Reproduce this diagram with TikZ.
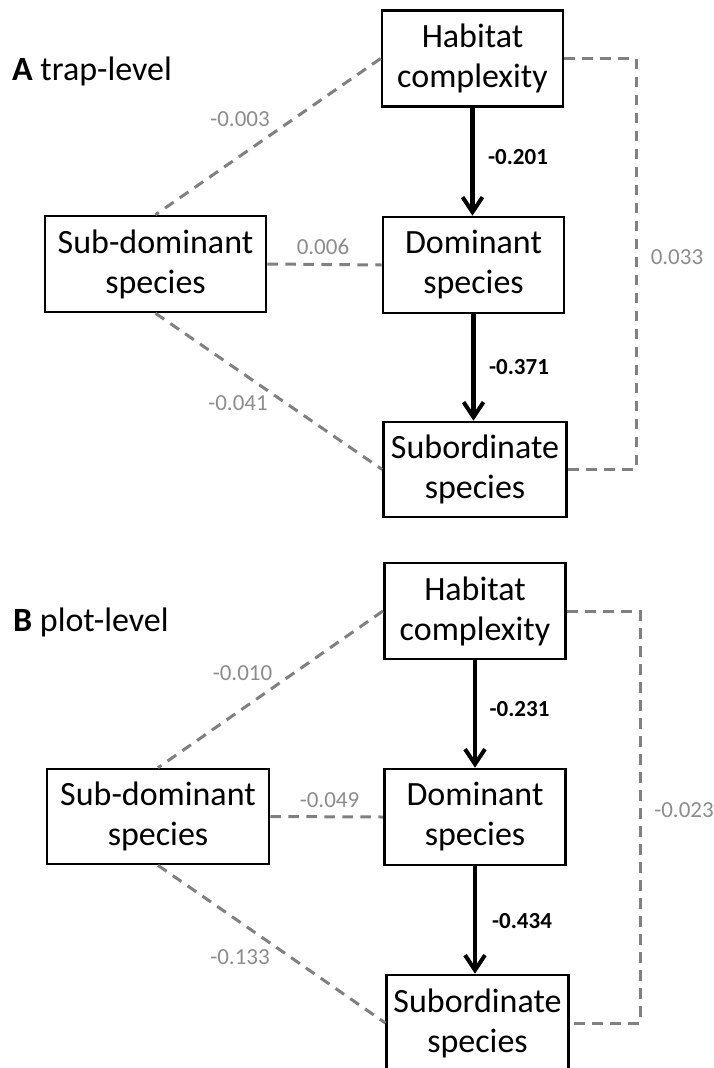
\documentclass[tikz,border=0pt]{standalone}
\usepackage{fontspec}
\setmainfont{Carlito}
\usetikzlibrary{arrows.meta}
\definecolor{dashgray}{RGB}{128,128,128}
\definecolor{labgray}{RGB}{140,140,140}
\tikzset{
  box/.style={draw=black, line width=2.6pt, minimum height=96pt, inner sep=0pt, align=center, font=\fontsize{34}{40}\selectfont},
  wbox/.style={box, minimum width=181pt},
  corr/.style={draw=dashgray, line width=3pt, dash pattern=on 10.5pt off 7.5pt},
  path/.style={draw=black, line width=4.2pt, -{Straight Barb[length=15pt,width=20pt,line width=4pt]}},
  glab/.style={text=labgray, font=\fontsize{23}{26}\selectfont, inner sep=0pt},
  blab/.style={text=black, font=\bfseries\fontsize{23}{26}\selectfont, inner sep=0pt},
  ptitle/.style={anchor=west, inner sep=0pt, font=\fontsize{34}{40}\selectfont}
}
\begin{document}
\begin{tikzpicture}[x=1pt,y=-1pt]
\useasboundingbox (0,0) rectangle (714,1068);
% ---------- Panel A ----------
\node[ptitle] (tA) at (12,71) {\textbf{A} trap-level};
\node[wbox] (hA) at (472.5,58.5) {Habitat\\complexity};
\node[wbox] (dA) at (473.5,265) {Dominant\\species};
\node[box, minimum width=183pt, minimum height=95pt] (sA) at (475,469.5) {Subordinate\\species};
\node[box, minimum width=221pt] (sdA) at (155.5,264) {Sub-dominant\\species};
\draw[path] (hA.south) -- (hA.south |- dA.north);
\draw[path] (dA.south) -- (dA.south |- sA.north);
\draw[corr] (hA.west) -- (sdA.north);
\draw[corr] (sdA.east) -- (dA.west);
\draw[corr] (sdA.south) -- (sA.west);
\coordinate (rA1) at (636,58.5);
\coordinate (rA2) at (636,469.5);
\draw[corr] (hA.east) -- (rA1) -- (rA2) -- (sA.east);
\node[glab] (lA1) at (240,119) {-0.003};
\node[blab] (lA2) at (518,157) {-0.201};
\node[glab] (lA3) at (323,247) {0.006};
\node[glab] (lA4) at (677,257) {0.033};
\node[blab] (lA5) at (519,367) {-0.371};
\node[glab] (lA6) at (238,403) {-0.041};
% ---------- Panel B ----------
\node[ptitle] (tB) at (13,622) {\textbf{B} plot-level};
\node[box, minimum width=181.5pt] (hB) at (475,611) {Habitat\\complexity};
\node[box, minimum width=181.5pt] (dB) at (475,817) {Dominant\\species};
\node[box, minimum width=181.5pt] (sB) at (477.5,1023) {Subordinate\\species};
\node[box, minimum width=222pt, minimum height=95pt] (sdB) at (158,816.5) {Sub-dominant\\species};
\draw[path] (hB.south) -- (hB.south |- dB.north);
\draw[path] (dB.south) -- (dB.south |- sB.north);
\draw[corr] (hB.west) -- (sdB.north);
\draw[corr] (sdB.east) -- (dB.west);
\draw[corr] (sdB.south) -- (sB.west);
\coordinate (rB1) at (640,611);
\coordinate (rB2) at (640,1023);
\draw[corr] (hB.east) -- (rB1) -- (rB2) -- (sB.east);
\node[glab] (lB1) at (242.5,673) {-0.010};
\node[blab] (lB2) at (519.5,709) {-0.231};
\node[glab] (lB3) at (329.5,800) {-0.049};
\node[glab] (lB4) at (684,810) {-0.023};
\node[blab] (lB5) at (522,921) {-0.434};
\node[glab] (lB6) at (240,957) {-0.133};
\end{tikzpicture}
\end{document}
